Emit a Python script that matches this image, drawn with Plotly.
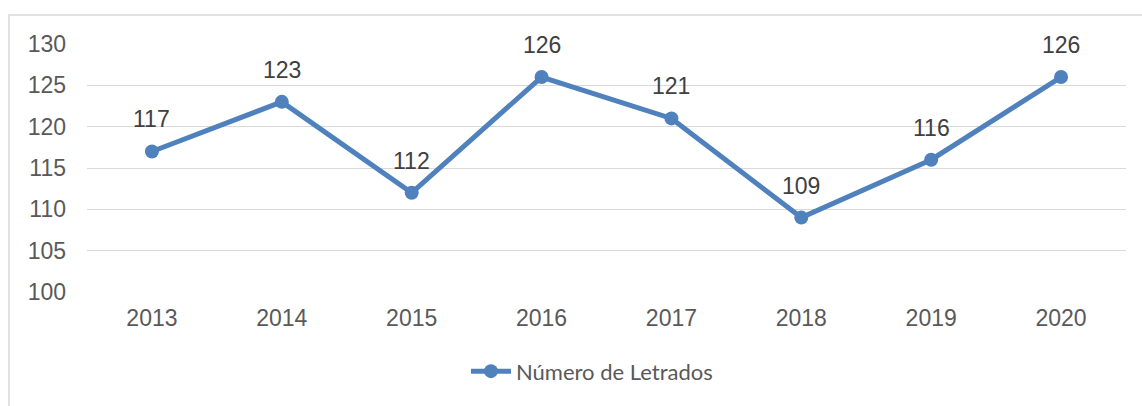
import plotly.graph_objects as go

years = ["2013", "2014", "2015", "2016", "2017", "2018", "2019", "2020"]
values = [117, 123, 112, 126, 121, 109, 116, 126]
series_name = "Número de Letrados"
y_ticks = [100, 105, 110, 115, 120, 125, 130]

color = "#4F81BD"
txt = "#595959"
arial = "Liberation Sans"

fig = go.Figure()
fig.add_trace(go.Scatter(
    x=years, y=values, mode="lines+markers", name=series_name,
    line=dict(color=color, width=5),
    marker=dict(color=color, size=14),
))

for i, v in enumerate(values):
    fig.add_annotation(x=i, y=v, xref="x", yref="y", text=str(v), showarrow=False,
                       yshift=32, font=dict(family=arial, size=23, color="#404040"))

fig.update_layout(
    width=1142, height=406,
    margin=dict(l=87, r=16, t=44, b=114),
    paper_bgcolor="white", plot_bgcolor="white",
    showlegend=True,
    legend=dict(orientation="h", x=0.486, xanchor="center", y=-0.32, yanchor="middle",
                font=dict(family="Lato", size=22, color=txt),
                itemwidth=40),
    xaxis=dict(type="category", range=[-0.5, 7.5], showgrid=False, zeroline=False,
               showline=False, ticks="", ticklabelstandoff=10,
               tickfont=dict(family=arial, size=23, color=txt)),
    yaxis=dict(range=[100, 130], tickvals=y_ticks, showgrid=True, gridcolor="#D9D9D9",
               gridwidth=1.3, zeroline=False, showline=False, ticks="",
               ticklabelstandoff=20,
               tickfont=dict(family=arial, size=23, color=txt)),
    shapes=[dict(type="rect", xref="paper", yref="paper", x0=-0.0751, x1=1.03,
                 y0=-0.5, y1=1.117, line=dict(color="#D9D9D9", width=1.5),
                 fillcolor="rgba(0,0,0,0)", layer="below")],
)

fig.write_html("out.html", config={"displayModeBar": False},
               post_script="document.body.style.margin='0';")
